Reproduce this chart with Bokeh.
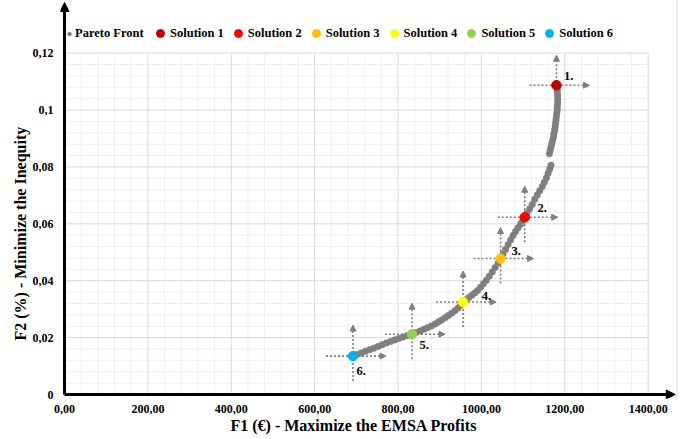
from bokeh.plotting import figure
from bokeh.models import (Range1d, FixedTicker, Arrow, NormalHead, Legend, LegendItem,
                          ColumnDataSource, Span, Title)
from bokeh.core.properties import value
from bokeh.embed import file_html
from bokeh.resources import INLINE

# ---------------- data ----------------
pareto_f1 = [692, 702, 712, 722, 732, 742, 752, 762, 772, 782, 792, 802, 812, 822, 833,
             843, 853, 862, 871, 880, 889, 897, 905, 913, 921, 929, 937, 944, 950, 956,
             963, 970, 977, 984, 991, 998, 1005, 1012, 1019, 1026, 1033, 1040, 1046,
             1052, 1058, 1064, 1070, 1076, 1082, 1088, 1094, 1099, 1104,
             1110, 1116, 1122, 1128, 1134, 1140, 1146, 1151, 1156, 1160, 1164, 1167,
             1163, 1165, 1167, 1169, 1171, 1173, 1174, 1176, 1177, 1178, 1179, 1180,
             1181, 1182, 1182, 1183, 1183, 1183, 1182, 1182, 1181]
pareto_f2 = [0.0135, 0.0141, 0.0146, 0.0152, 0.0157, 0.0163, 0.0169, 0.0175, 0.0181, 0.0186,
             0.0192, 0.0197, 0.0202, 0.0207, 0.0212,
             0.0218, 0.0223, 0.0229, 0.0235, 0.0241, 0.0248, 0.0255, 0.0262, 0.0270, 0.0278,
             0.0286, 0.0295, 0.0304, 0.0314, 0.0325,
             0.0333, 0.0341, 0.0349, 0.0357, 0.0366, 0.0377, 0.0389, 0.0402, 0.0416, 0.0431,
             0.0446, 0.0462, 0.0478,
             0.0494, 0.0510, 0.0527, 0.0543, 0.0559, 0.0573, 0.0586, 0.0599, 0.0611, 0.0623,
             0.0638, 0.0653, 0.0668, 0.0686, 0.0701, 0.0716, 0.0731, 0.0746, 0.0762, 0.0778,
             0.0793, 0.0806,
             0.0846, 0.0858, 0.0870, 0.0882, 0.0894, 0.0906, 0.0918, 0.0930, 0.0942, 0.0954,
             0.0966, 0.0978, 0.0990, 0.1002, 0.1014, 0.1026, 0.1038, 0.1050, 0.1062, 0.1074,
             0.1085]

solution_names = ["Solution 1", "Solution 2", "Solution 3", "Solution 4", "Solution 5", "Solution 6"]
solution_tags = ["1.", "2.", "3.", "4.", "5.", "6."]
solution_f1 = [1180, 1104, 1046, 956, 833.5, 692]
solution_f2 = [0.1087, 0.0623, 0.0478, 0.0325, 0.0212, 0.0135]

x_ticks = [0, 200, 400, 600, 800, 1000, 1200, 1400]
x_tick_labels = ["0,00", "200,00", "400,00", "600,00", "800,00", "1000,00", "1200,00", "1400,00"]
y_ticks = [0, 0.02, 0.04, 0.06, 0.08, 0.1, 0.12]
y_tick_labels = ["0", "0,02", "0,04", "0,06", "0,08", "0,1", "0,12"]

x_title = "F1 (€) - Maximize the EMSA Profits"
y_title = "F2 (%) - Minimize the Inequity"

# ---------------- styles ----------------
solution_colors = ["#c00000", "#ff0000", "#ffc000", "#ffff00", "#92d050", "#00b0f0"]
tag_dx = [7.6, 12.7, 11, 18.7, 7.4, 3.4]      # screen px offsets of the "n." tags
tag_dy = [-9.7, -9.2, -7.3, -5.7, 11.3, 15]
GRAY = "#7f7f7f"
FONT = "Liberation Serif"

W, H = 688, 439
LEFT, RIGHT, TOP, BOTTOM = 60, 7, 0, 41
X_END, Y_END = 1480, 0.1385
ux = X_END / 617.0     # data units per pixel
uy = Y_END / 394.0
PAD = 4                # pixels between frame edge and the drawn axis lines

p = figure(width=W, height=H, x_range=Range1d(-PAD * ux, X_END),
           y_range=Range1d(-PAD * uy, Y_END),
           output_backend="svg", toolbar_location=None,
           min_border_left=LEFT, min_border_right=RIGHT, min_border_top=TOP,
           min_border_bottom=BOTTOM)
p.outline_line_color = None
p.xgrid.visible = False
p.ygrid.visible = False

# ---------------- grid (drawn to 1400 / 0.12 only) ----------------
x_max, y_max = x_ticks[-1], y_ticks[-1]
x_minor = [v for v in range(0, 1400, 40) if v % 200 != 0]
y_minor = [round(k * 0.004, 4) for k in range(1, 30) if k % 5 != 0]
p.segment(x0=x_minor, y0=[0] * len(x_minor), x1=x_minor, y1=[y_max] * len(x_minor),
          line_color="#efefef", line_width=1, level="image")
p.segment(x0=[0] * len(y_minor), y0=y_minor, x1=[x_max] * len(y_minor), y1=y_minor,
          line_color="#efefef", line_width=1, level="image")
p.segment(x0=x_ticks[1:], y0=[0] * 7, x1=x_ticks[1:], y1=[y_max] * 7,
          line_color="#d9d9d9", line_width=1, level="image")
p.segment(x0=[0] * 6, y0=y_ticks[1:], x1=[x_max] * 6, y1=y_ticks[1:],
          line_color="#d9d9d9", line_width=1, level="image")

p.add_layout(Span(location=1469, dimension="height", line_color="#d9d9d9", line_width=1))

# ---------------- axes ----------------
for ax, ticks, labels, b in ((p.xaxis[0], x_ticks, x_tick_labels, (0, 1400)),
                             (p.yaxis[0], y_ticks, y_tick_labels, (0, 0.12))):
    ax.ticker = FixedTicker(ticks=ticks)
    ax.major_label_overrides = {t: l for t, l in zip(ticks, labels)}
    ax.bounds = b
    ax.axis_line_color = None
    ax.major_tick_line_color = None
    ax.minor_tick_line_color = None
    ax.major_tick_out = 0
    ax.major_tick_in = 0
    ax.minor_tick_out = 0
    ax.minor_tick_in = 0
    ax.major_label_text_font = FONT
    ax.major_label_text_font_style = "bold"
    ax.major_label_text_font_size = "12px"
    ax.major_label_text_color = "black"

p.xaxis.major_label_standoff = 6
p.yaxis.major_label_standoff = 7

# axis titles, placed so they centre on the plotted area (0..1400, 0..0.12)
title_style = dict(text_font=FONT, text_font_style="bold", text_font_size="16px",
                   text_color="black", align="left")
p.add_layout(Title(text=x_title, offset=170, vertical_align="top", standoff=3, **title_style),
             "below")
p.add_layout(Title(text=y_title, offset=58, vertical_align="middle", standoff=0, **title_style),
             "left")

# axis lines with arrow heads
p.add_layout(Arrow(x_start=0, y_start=0, x_end=1465, y_end=0, line_color="black", line_width=3,
                   end=NormalHead(size=9, fill_color="black", line_color="black")))
p.add_layout(Arrow(x_start=0, y_start=0, x_end=0, y_end=0.1378, line_color="black", line_width=3,
                   end=NormalHead(size=9, fill_color="black", line_color="black")))

# ---------------- pareto front ----------------
r_pareto = p.scatter(pareto_f1, pareto_f2, size=6.5, fill_color=GRAY, line_color=GRAY,
                     line_width=0.5)

# dotted cross arrows at each solution
for i, (x, y) in enumerate(zip(solution_f1, solution_f2)):
    up = 30 if i == 0 else 31
    p.add_layout(Arrow(x_start=x - 27 * ux, y_start=y, x_end=x + 33 * ux, y_end=y,
                       line_color=GRAY, line_width=1.6, line_dash="2 2", level="underlay",
                       end=NormalHead(size=6, fill_color=GRAY, line_color=GRAY, line_width=1)))
    p.add_layout(Arrow(x_start=x, y_start=y - 25 * uy, x_end=x, y_end=y + up * uy,
                       line_color=GRAY, line_width=1.6, line_dash="2 2", level="underlay",
                       end=NormalHead(size=6, fill_color=GRAY, line_color=GRAY, line_width=1)))

sol_src = ColumnDataSource(dict(x=solution_f1, y=solution_f2, color=solution_colors,
                                tag=solution_tags, dx=tag_dx, dy=tag_dy))
r_sol = p.scatter("x", "y", source=sol_src, size=9.5, fill_color="color", line_color="color")
p.text("x", "y", text="tag", x_offset="dx", y_offset="dy", source=sol_src,
       text_font=value(FONT), text_font_style="bold", text_font_size="12.5px",
       text_color="black", text_align="left", text_baseline="middle")

# ---------------- legends ----------------
common = dict(orientation="horizontal", padding=0, margin=0, border_line_color=None,
              background_fill_alpha=0, label_text_font=FONT, label_text_font_style="bold",
              label_text_font_size="12.5px", label_text_color="black")
leg_a = Legend(items=[LegendItem(label=value("Pareto Front"), renderers=[r_pareto])],
               location=(4, 398 - 40.5), glyph_width=10, glyph_height=15, label_height=15,
               label_standoff=1, spacing=0, **common)
leg_b = Legend(items=[LegendItem(label=value(n), renderers=[r_sol], index=i)
                      for i, n in enumerate(solution_names)],
               location=(90, 398 - 43), glyph_width=20, glyph_height=20, label_height=20,
               label_standoff=0, spacing=4, **common)
p.add_layout(leg_a, "center")
p.add_layout(leg_b, "center")

open("out.html", "w").write(file_html(p, INLINE))
